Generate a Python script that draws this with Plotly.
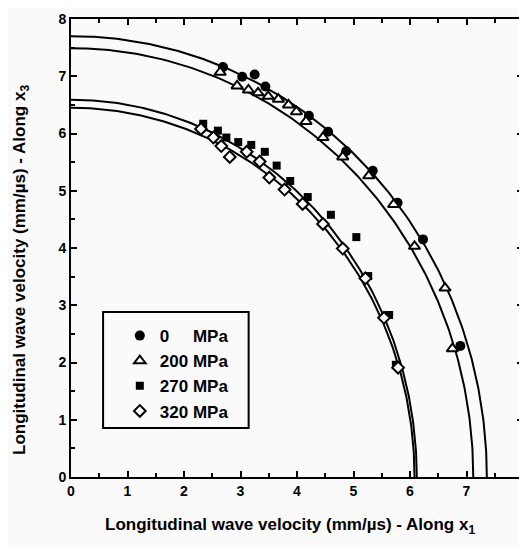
import numpy as np
import plotly.graph_objects as go

# ---- data ----
labels = ["0\u00a0\u00a0\u00a0\u00a0\u00a0MPa", "200 MPa", "270 MPa", "320 MPa"]

x_0 = [2.69, 3.03, 3.25, 3.44, 4.21, 4.55, 4.87, 5.34, 5.78, 6.23, 6.89]
y_0 = [7.16, 6.99, 7.03, 6.82, 6.31, 6.03, 5.69, 5.35, 4.79, 4.15, 2.29]

x_200 = [2.64, 2.94, 3.14, 3.31, 3.49, 3.67, 3.85, 3.99, 4.16, 4.46, 4.81, 5.27, 5.71, 6.08, 6.62, 6.75]
y_200 = [7.07, 6.83, 6.76, 6.71, 6.65, 6.60, 6.50, 6.38, 6.21, 5.93, 5.59, 5.26, 4.76, 4.03, 3.30, 2.24]

x_270 = [2.34, 2.60, 2.75, 2.96, 3.19, 3.43, 3.64, 3.88, 4.19, 4.60, 5.05, 5.26, 5.63, 5.75]
y_270 = [6.17, 6.05, 5.93, 5.85, 5.80, 5.68, 5.44, 5.17, 4.89, 4.58, 4.19, 3.51, 2.83, 1.96]

x_320 = [2.30, 2.52, 2.66, 2.81, 3.11, 3.34, 3.51, 3.78, 4.10, 4.46, 4.81, 5.21, 5.54, 5.79]
y_320 = [6.08, 5.93, 5.78, 5.59, 5.68, 5.51, 5.23, 5.02, 4.77, 4.42, 3.99, 3.47, 2.78, 1.91]

# fitted elliptical velocity curves: semi-axis along x1, semi-axis along x3
fit_a = [7.36, 7.12, 6.12, 6.08]
fit_b = [7.70, 7.49, 6.59, 6.45]

tick_vals = [0, 1, 2, 3, 4, 5, 6, 7, 8]
tick_text = ["0", "1", "2", "3", "4", "5", "6", "7", "8"]

x_title = "<b>Longitudinal wave velocity (mm/µs) - Along x<sub>1</sub></b>"
y_title = "<b>Longitudinal wave velocity (mm/µs) - Along x<sub>3</sub></b>"

fig = go.Figure()

theta = np.linspace(0, np.pi / 2, 200)
for a, b in zip(fit_a, fit_b):
    fig.add_trace(go.Scatter(x=a * np.cos(theta), y=b * np.sin(theta), mode="lines",
                             line=dict(color="black", width=2), showlegend=False,
                             hoverinfo="skip"))

series = [
    (x_0, y_0, dict(symbol="circle", size=10, color="black", line=dict(width=0))),
    (x_200, y_200, dict(symbol="triangle-up", size=10, color="white", line=dict(color="black", width=2))),
    (x_270, y_270, dict(symbol="square", size=8, color="black", line=dict(width=0))),
    (x_320, y_320, dict(symbol="diamond", size=9, color="white", line=dict(color="black", width=2))),
]
for (xs, ys, mk), name in zip(series, labels):
    fig.add_trace(go.Scatter(x=xs, y=ys, mode="markers", marker=mk, name=name))

font_family = "Liberation Sans, Arial, sans-serif"
axis_common = dict(range=[0, 8], tickvals=tick_vals, ticktext=tick_text,
                   showgrid=False, zeroline=False, showline=True, linecolor="black",
                   linewidth=2, mirror="ticks", ticks="inside", ticklen=6, tickwidth=2,
                   tickcolor="black",
                   minor=dict(ticks="inside", dtick=0.5, ticklen=4, tickwidth=2, tickcolor="black"),
                   tickfont=dict(family=font_family, size=14, color="black", weight="bold"))

fig.update_xaxes(**axis_common)
fig.update_yaxes(**axis_common)

title_font = dict(family=font_family, size=17, color="black")
fig.add_annotation(text=x_title, xref="paper", yref="paper", x=0.485, y=0,
                   xanchor="center", yanchor="middle", yshift=-49, showarrow=False,
                   font=title_font)
fig.add_annotation(text=y_title, xref="paper", yref="paper", x=0, y=0.452,
                   xanchor="center", yanchor="middle", xshift=-50, textangle=-90,
                   showarrow=False, font=title_font)

# legend frame
fig.add_shape(type="rect", xref="paper", yref="paper", x0=0.071, x1=0.393, y0=0.107, y1=0.360,
              line=dict(color="black", width=2), fillcolor="rgba(0,0,0,0)")

# the page adds an 8px body margin, so the figure is 8px smaller than the window
fig.update_layout(
    width=519, height=540,
    margin=dict(l=63, r=2, t=11, b=71),
    paper_bgcolor="#fafafa", plot_bgcolor="#fafafa",
    showlegend=True,
    legend=dict(x=0.108, y=0.347, xanchor="left", yanchor="top", bgcolor="rgba(0,0,0,0)",
                borderwidth=0, font=dict(family=font_family, size=17, color="black", weight="bold"),
                tracegroupgap=0),
)

fig.write_html("out.html")
